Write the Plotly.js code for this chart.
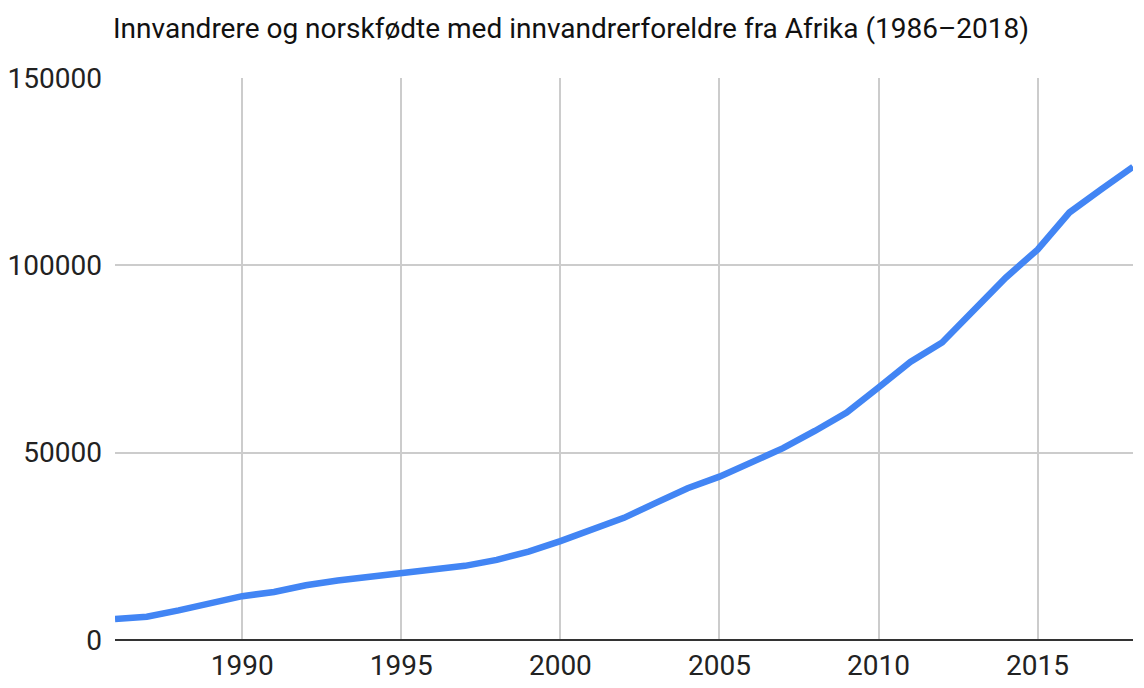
<!DOCTYPE html>
<html>
<head>
<meta charset="utf-8">
<script src="https://cdn.plot.ly/plotly-3.0.1.min.js"></script>
<style>html,body{margin:0;padding:0;background:#fff}#chart{width:1144px;height:688px}</style>
</head>
<body>
<div id="chart"></div>
<script>
const years = [1986,1987,1988,1989,1990,1991,1992,1993,1994,1995,1996,1997,1998,1999,2000,2001,2002,2003,2004,2005,2006,2007,2008,2009,2010,2011,2012,2013,2014,2015,2016,2017,2018];
const persons = [5600,6200,7900,9900,11700,12800,14600,15900,16800,17700,18700,19800,21400,23600,26400,29600,32600,36600,40500,43600,47300,51200,55800,60700,67400,74200,79400,88300,96700,104200,114100,120300,126300];
const titleText = "Innvandrere og norskfødte med innvandrerforeldre fra Afrika (1986–2018)";
const yTicks = [0,50000,100000,150000];
const xTicks = [1990,1995,2000,2005,2010,2015];

Plotly.newPlot('chart', [{
  x: years, y: persons, type: 'scatter', mode: 'lines',
  line: {color: '#4285f4', width: 6.5}, hoverinfo: 'x+y'
}], {
  width: 1144, height: 688,
  margin: {l: 115, r: 11, t: 78, b: 48},
  paper_bgcolor: '#fff', plot_bgcolor: '#fff',
  font: {family: 'Roboto, sans-serif', color: '#222', size: 28},
  title: {text: titleText, x: 113/1144, xanchor: 'left', xref: 'container',
          y: 1 - 28/688, yanchor: 'middle', yref: 'container',
          font: {family: 'Roboto, sans-serif', size: 28, color: '#111'}},
  xaxis: {range: [1986, 2018], tickvals: xTicks, ticktext: xTicks.map(String),
          showgrid: true, gridcolor: '#cccccc', gridwidth: 2, zeroline: false,
          showline: false, ticks: '', ticklabelstandoff: 6,
          tickfont: {size: 28, color: '#222'}},
  yaxis: {range: [0, 150000], tickvals: yTicks, ticktext: yTicks.map(String),
          showgrid: true, gridcolor: '#cccccc', gridwidth: 2,
          zeroline: true, zerolinecolor: '#333333', zerolinewidth: 2,
          showline: false, ticks: '', ticklabelstandoff: 12,
          tickfont: {size: 28, color: '#222'}},
  showlegend: false
}, {displayModeBar: false, staticPlot: false});
</script>
</body>
</html>
